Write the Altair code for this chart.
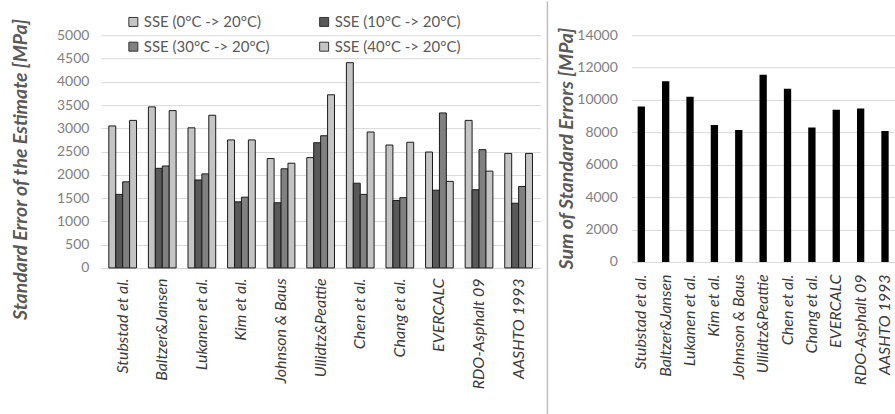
import altair as alt
import pandas as pd

methods = ["Stubstad et al.", "Baltzer&Jansen", "Lukanen et al.", "Kim et al.",
           "Johnson & Baus", "Ullidtz&Peattie", "Chen et al.", "Chang et al.",
           "EVERCALC", "RDO-Asphalt 09", "AASHTO 1993"]
series_names = ["SSE (0°C -> 20°C)", "SSE (10°C -> 20°C)",
                "SSE (30°C -> 20°C)", "SSE (40°C -> 20°C)"]
sse_0 = [3050, 3460, 3010, 2750, 2350, 2370, 4410, 2640, 2490, 3170, 2460]
sse_10 = [1580, 2140, 1890, 1420, 1400, 2690, 1820, 1450, 1670, 1680, 1390]
sse_30 = [1850, 2190, 2020, 1520, 2130, 2840, 1580, 1510, 3330, 2540, 1750]
sse_40 = [3170, 3380, 3280, 2750, 2250, 3720, 2920, 2700, 1860, 2080, 2460]
sum_se = [9600, 11150, 10200, 8450, 8150, 11550, 10700, 8300, 9400, 9480, 8080]
left_ticks = list(range(0, 5001, 500))
right_ticks = list(range(0, 14001, 2000))

series_colors = ["#c4c4c4", "#595959", "#808080", "#c4c4c4"]

rows = []
for name, vals in zip(series_names, [sse_0, sse_10, sse_30, sse_40]):
    for m, v in zip(methods, vals):
        rows.append({"method": m, "series": name, "value": v})
df_left = pd.DataFrame(rows)
df_right = pd.DataFrame({"method": methods, "sum": sum_se})
df_one = pd.DataFrame({"k": [0]})

FONT = "Lato"

x_axis_common = dict(title=None, labelAngle=270, labelFont=FONT, labelFontStyle="italic",
                     labelFontSize=16, labelColor="#3a3a3a", ticks=False,
                     labelLimit=300)

bars_left = alt.Chart(df_left).mark_bar(stroke="#1a1a1a", strokeWidth=1).encode(
    x=alt.X("method:N", sort=methods,
            scale=alt.Scale(paddingInner=0.3, paddingOuter=0.2),
            axis=alt.Axis(labelPadding=10, domainColor="#d9d9d9", **x_axis_common)),
    xOffset=alt.XOffset("series:N", sort=series_names,
                        scale=alt.Scale(paddingInner=0, paddingOuter=0)),
    y=alt.Y("value:Q", scale=alt.Scale(domain=[0, 5000], nice=False),
            axis=alt.Axis(values=left_ticks, format="d",
                          title="Standard Error of the Estimate [MPa]",
                          titleFont=FONT, titleFontSize=19.5, titleFontStyle="italic",
                          titleFontWeight="bold", titleColor="#595959",
                          titleX=-80, titleY=134, titleAngle=270, titleAlign="center",
                          titleBaseline="middle",
                          labelFont=FONT, labelFontSize=14, labelColor="#808080",
                          labelPadding=12, domain=False, ticks=False,
                          gridColor="#d9d9d9", gridWidth=1)),
    color=alt.Color("series:N", scale=alt.Scale(domain=series_names, range=series_colors),
                    legend=alt.Legend(title=None, orient="none", legendX=25, legendY=-21,
                                      direction="horizontal",
                                      columns=2, columnPadding=46, rowPadding=9,
                                      symbolType="square", symbolSize=81,
                                      symbolStrokeColor="#333333", symbolStrokeWidth=1,
                                      labelFont=FONT, labelFontSize=15, labelColor="#595959",
                                      labelOffset=3, padding=0)),
)

divider = alt.Chart(df_one).mark_rule(color="#bfbfbf", strokeWidth=1.5).encode(
    x=alt.value(447), y=alt.value(-34), y2=alt.value(380))
pin = alt.Chart(df_one).mark_rule(color="white", strokeWidth=1).encode(
    x=alt.value(-100), y=alt.value(-34), y2=alt.value(380))

left = alt.layer(pin, bars_left, divider).properties(width=440, height=233)

right = alt.Chart(df_right).mark_bar(color="black").encode(
    x=alt.X("method:N", sort=methods,
            scale=alt.Scale(paddingInner=0.7, paddingOuter=0.26),
            axis=alt.Axis(labelPadding=12, domain=False, **x_axis_common)),
    y=alt.Y("sum:Q", scale=alt.Scale(domain=[0, 14000], nice=False),
            axis=alt.Axis(values=right_ticks, format="d",
                          title="Sum of Standard Errors [MPa]",
                          titleFont=FONT, titleFontSize=19.5, titleFontStyle="italic",
                          titleFontWeight="bold", titleColor="#595959",
                          titleX=-65, titleY=113, titleAngle=270, titleAlign="center",
                          titleBaseline="middle",
                          labelFont=FONT, labelFontSize=14, labelColor="#808080",
                          labelPadding=14, domain=False, ticks=False,
                          gridColor="#d9d9d9", gridWidth=1)),
).properties(width=264, height=227)

chart = alt.hconcat(left, right, spacing=91, bounds="flush").properties(
    padding=0, background="white"
).configure_view(stroke=None)

chart.save("out.html", embed_options={"renderer": "svg", "actions": False})
